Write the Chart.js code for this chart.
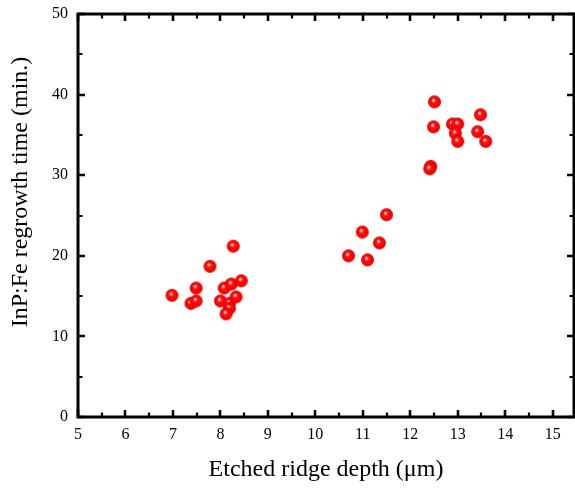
<!DOCTYPE html>
<html>
<head>
<meta charset="utf-8">
<script src="https://cdn.jsdelivr.net/npm/chart.js@4/dist/chart.umd.min.js"></script>
<style>
  html, body { margin: 0; padding: 0; background: #ffffff; }
  #wrap { width: 575px; height: 491px; }
</style>
</head>
<body>
<div id="wrap"><canvas id="c" width="575" height="491"></canvas></div>
<script>
// Etched ridge depth (µm)
const depthValues = [
  8.27, 7.78, 7.49, 6.98, 7.38, 7.49, 8.08, 8.23, 8.44, 8.00, 8.19, 8.33, 8.19, 8.12,
  11.50, 10.99, 11.35, 10.70, 11.10,
  12.51, 12.49, 12.89, 13.00, 12.95, 13.00, 13.48, 13.42, 13.59, 12.43, 12.41
];
// InP:Fe regrowth time (min.)
const timeValues = [
  21.2, 18.7, 16.0, 15.1, 14.1, 14.4, 16.0, 16.5, 16.9, 14.4, 14.1, 14.9, 13.5, 12.8,
  25.1, 22.95, 21.6, 20.0, 19.5,
  39.1, 36.0, 36.35, 36.35, 35.2, 34.2, 37.5, 35.4, 34.2, 31.1, 30.8
];
const xTickValues = [5, 6, 7, 8, 9, 10, 11, 12, 13, 14, 15];
const yTickValues = [0, 10, 20, 30, 40, 50];
const xTitle = 'Etched ridge depth (\u03bcm)';
const yTitle = 'InP:Fe regrowth time (min.)';

const points = depthValues.map((x, i) => ({ x: x, y: timeValues[i] }));

// sphere marker
function makeSphere(r) {
  const s = Math.ceil(r * 2 + 2);
  const cv = document.createElement('canvas');
  cv.width = s; cv.height = s;
  const g = cv.getContext('2d');
  const c = s / 2;
  const grad = g.createRadialGradient(c - 1.2, c - 1.8, 0, c, c, r);
  grad.addColorStop(0, '#ffffff');
  grad.addColorStop(0.15, '#ffb0b0');
  grad.addColorStop(0.35, '#ff1010');
  grad.addColorStop(0.85, '#f50000');
  grad.addColorStop(1, '#c80000');
  g.fillStyle = grad;
  g.beginPath(); g.arc(c, c, r, 0, Math.PI * 2); g.fill();
  return cv;
}
const sphere = makeSphere(6.5);

const serif = "'Liberation Serif', 'Times New Roman', serif";

const framePlugin = {
  id: 'frame',
  afterDraw(chart) {
    const ctx = chart.ctx;
    const a = chart.chartArea;
    const xs = chart.scales.x, ys = chart.scales.y;
    ctx.save();
    ctx.strokeStyle = '#000';
    ctx.lineCap = 'butt';
    // inward ticks
    for (let v = 5; v <= 15.0001; v += 0.5) {
      const px = Math.round(xs.getPixelForValue(v));
      const major = Math.abs(v - Math.round(v)) < 1e-6;
      const len = major ? 7 : 4.5;
      ctx.lineWidth = major ? 2.6 : 2.2;
      ctx.beginPath();
      ctx.moveTo(px, a.bottom); ctx.lineTo(px, a.bottom - len);
      ctx.moveTo(px, a.top); ctx.lineTo(px, a.top + len);
      ctx.stroke();
    }
    for (let v = 0; v <= 50.0001; v += 5) {
      const py = Math.round(ys.getPixelForValue(v));
      const major = v % 10 === 0;
      const len = major ? 7 : 4.5;
      ctx.lineWidth = major ? 2.6 : 2.2;
      ctx.beginPath();
      ctx.moveTo(a.left, py); ctx.lineTo(a.left + len, py);
      ctx.moveTo(a.right, py); ctx.lineTo(a.right - len, py);
      ctx.stroke();
    }
    // frame
    ctx.lineWidth = 3;
    ctx.strokeRect(a.left, a.top, a.right - a.left, a.bottom - a.top);
    // axis titles
    ctx.fillStyle = '#000';
    ctx.font = '24px ' + serif;
    ctx.textAlign = 'center';
    ctx.textBaseline = 'middle';
    ctx.fillText(xTitle, (a.left + a.right) / 2, 470);
    ctx.translate(21, 192);
    ctx.rotate(-Math.PI / 2);
    ctx.fillText(yTitle, 0, 0);
    ctx.restore();
  }
};

new Chart(document.getElementById('c'), {
  type: 'scatter',
  data: {
    datasets: [{
      data: points,
      pointStyle: sphere,
      pointRadius: 6.5,
      pointHoverRadius: 6.5,
      showLine: false
    }]
  },
  options: {
    responsive: false,
    devicePixelRatio: 1,
    animation: false,
    events: [],
    layout: { autoPadding: false, padding: { left: 0, right: 1, top: 14, bottom: 0 } },
    plugins: { legend: { display: false }, tooltip: { enabled: false } },
    scales: {
      x: {
        type: 'linear',
        min: 5,
        max: 15.45,
        afterBuildTicks(scale) { scale.ticks = xTickValues.map(v => ({ value: v })); },
        afterFit(scale) {
          scale.height = 74;
          scale.paddingLeft = 0; scale.paddingRight = 0;
          scale.paddingTop = 0; scale.paddingBottom = 0;
        },
        grid: { display: false, drawTicks: false },
        border: { display: false },
        ticks: {
          autoSkip: false,
          maxRotation: 0,
          padding: 8,
          color: '#000',
          font: { family: serif, size: 16 },
          callback: v => String(v)
        }
      },
      y: {
        type: 'linear',
        min: 0,
        max: 50,
        afterBuildTicks(scale) { scale.ticks = yTickValues.map(v => ({ value: v })); },
        afterFit(scale) {
          scale.width = 78;
          scale.paddingLeft = 0; scale.paddingRight = 0;
          scale.paddingTop = 0; scale.paddingBottom = 0;
        },
        grid: { display: false, drawTicks: false },
        border: { display: false },
        ticks: {
          autoSkip: false,
          padding: 10,
          color: '#000',
          font: { family: serif, size: 16 },
          callback: v => String(v)
        }
      }
    }
  },
  plugins: [framePlugin]
});
</script>
</body>
</html>
